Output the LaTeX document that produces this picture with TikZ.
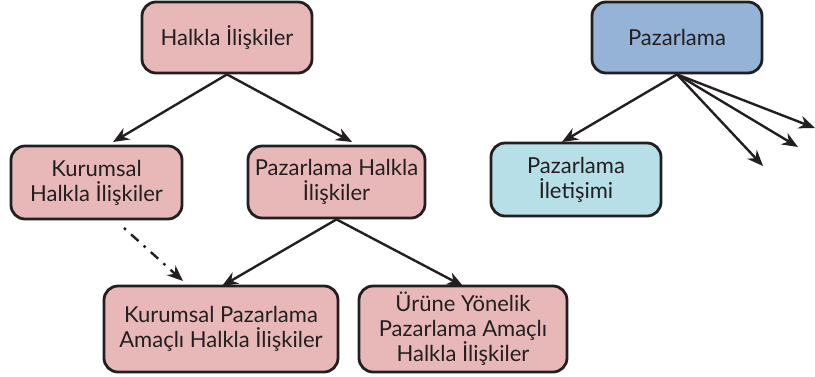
\documentclass[tikz,border=0pt]{standalone}
\usepackage{fontspec}
\setmainfont{Lato}
\usetikzlibrary{arrows.meta}
\definecolor{rosebox}{HTML}{E8B8B8}
\definecolor{bluebox}{HTML}{95B3D7}
\definecolor{cyanbox}{HTML}{B7DFE8}
\definecolor{inkline}{HTML}{231F20}
\begin{document}
\begin{tikzpicture}[x=1pt,y=-1pt,
  box/.style={draw=inkline, line width=2.8pt, rounded corners=14pt, align=center,
    font=\fontsize{22}{25}\selectfont, text=inkline, inner sep=0pt},
  link/.style={draw=inkline, line width=2.4pt, -{Stealth[length=16pt,width=13pt]}},
  dashlink/.style={link, dash pattern=on 2.5pt off 7pt on 10pt off 7pt}]
\useasboundingbox (0,0) rectangle (815,376);
\node[box, fill=rosebox, minimum width=170pt, minimum height=71pt] (hi) at (227,37.5) {Halkla İlişkiler};
\node[box, fill=rosebox, minimum width=171pt, minimum height=73pt] (khi) at (96.5,182.5) {Kurumsal\\Halkla İlişkiler};
\node[box, fill=rosebox, minimum width=177pt, minimum height=72pt] (phi) at (336.5,182) {Pazarlama Halkla\\İlişkiler};
\node[box, fill=rosebox, minimum width=234pt, minimum height=86pt] (kpa) at (221,329) {Kurumsal Pazarlama\\Amaçlı Halkla İlişkiler};
\node[box, fill=rosebox, minimum width=208pt, minimum height=86pt] (upa) at (463,329) {Ürüne Yönelik\\Pazarlama Amaçlı\\Halkla İlişkiler};
\node[box, fill=bluebox, minimum width=170pt, minimum height=71pt] (pz) at (677,37.5) {Pazarlama};
\node[box, fill=cyanbox, minimum width=170pt, minimum height=73pt] (pi) at (576,179.5) {Pazarlama\\İletişimi};
\coordinate (o1) at (763,166);
\coordinate (o2) at (798,147);
\coordinate (o3) at (815,128);
\draw[link] (hi.south) -- (113,142);
\draw[link] (hi.south) -- (352,142);
\draw[link] (phi.south) -- (222,286);
\draw[link] (phi.south) -- (463,286);
\draw[dashlink] (124,228) -- (183,281);
\draw[link] (pz.south) -- (562,142);
\draw[link] (pz.south) -- (o1);
\draw[link] (pz.south) -- (o2);
\draw[link] (pz.south) -- (o3);
\end{tikzpicture}
\end{document}
